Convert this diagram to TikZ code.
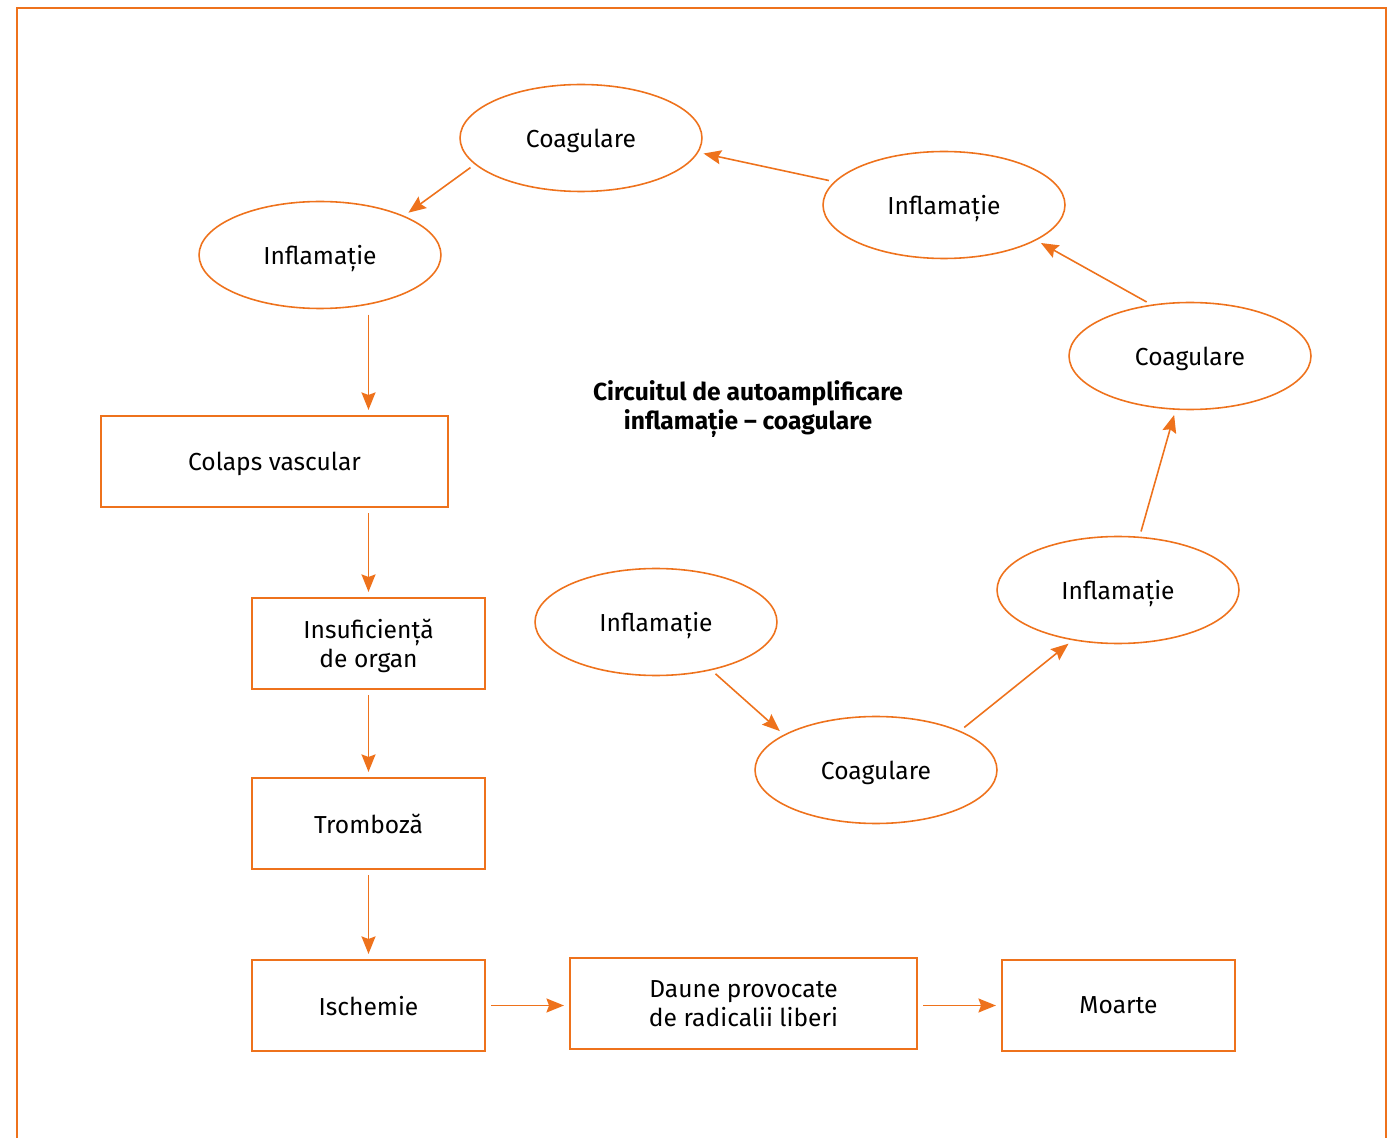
\documentclass[tikz,border=0pt]{standalone}
\usepackage{fontspec}
\setmainfont{Fira Sans}
\usepackage{tikz}
\usetikzlibrary{shapes.geometric,arrows.meta}
\definecolor{myorange}{RGB}{238,114,28}
\tikzset{myellipse/.style={draw=myorange,ellipse,line width=0.9pt,minimum width=4.84cm,minimum height=2.14cm,inner sep=0pt,text depth=0pt},
mybox/.style={draw=myorange,rectangle,line width=0.9pt,minimum height=1.82cm,align=center,inner sep=0pt,text depth=0pt},
myarrow/.style={draw=myorange,line width=0.9pt,-{Stealth[length=10pt,width=8pt,inset=1.5pt]},shorten <=3pt,shorten >=3pt}}

\begin{document}
\begin{tikzpicture}[x=0.02cm,y=-0.02cm,font=\fontsize{14}{16.5}\selectfont]
\useasboundingbox (0,0) rectangle (1394,1138);
% outer frame, open at the bottom
\draw[myorange,line width=1.2pt] (17,1138) -- (17,8) -- (1386,8) -- (1386,1138);
% title
\node[font=\bfseries\fontsize{14}{16}\selectfont,align=center,text depth=0pt] (title) at (748,405) {Circuitul de autoamplificare\\inflamație – coagulare};
% ellipses of the loop
\node[myellipse] (coag1) at (581,138) {Coagulare};
\node[myellipse] (infl1) at (944,205) {Inflamație};
\node[myellipse] (infl2) at (320,255) {Inflamație};
\node[myellipse] (coag2) at (1190,356) {Coagulare};
\node[myellipse] (infl3) at (1118,590) {Inflamație};
\node[myellipse] (infl4) at (656,622) {Inflamație};
\node[myellipse] (coag3) at (876,770) {Coagulare};
% boxes of the chain
\node[mybox,minimum width=6.94cm] (colaps) at (274.5,461.5) {Colaps vascular};
\node[mybox,minimum width=4.66cm] (insuf) at (368.5,643.5) {Insuficiență\\de organ};
\node[mybox,minimum width=4.66cm] (tromb) at (368.5,823.5) {Tromboză};
\node[mybox,minimum width=4.66cm] (isch) at (368.5,1005.5) {Ischemie};
\node[mybox,minimum width=6.94cm] (daune) at (743.5,1003.5) {Daune provocate\\de radicalii liberi};
\node[mybox,minimum width=4.66cm] (moarte) at (1118.5,1005.5) {Moarte};
% loop arrows
\draw[myarrow] (infl4.319.8) -- (coag3.159.9);
\draw[myarrow] (coag3.25.3) -- (infl3.228.3);
\draw[myarrow] (infl3.68.8) -- (coag2.255.3);
\draw[myarrow] (coag2.127.5) -- (infl1.339.8);
\draw[myarrow] (infl1.168.6) -- (coag1.353.7);
\draw[myarrow] (coag1.194.7) -- (infl2.25.3);
% chain arrows
\draw[myarrow] (infl2.south -| insuf) -- (colaps.north -| insuf);
\draw[myarrow] (colaps.south -| insuf) -- (insuf);
\draw[myarrow] (insuf) -- (tromb);
\draw[myarrow] (tromb) -- (isch);
\draw[myarrow] (isch) -- (daune.west |- isch);
\draw[myarrow] (daune.east |- moarte) -- (moarte);
\end{tikzpicture}
\end{document}
